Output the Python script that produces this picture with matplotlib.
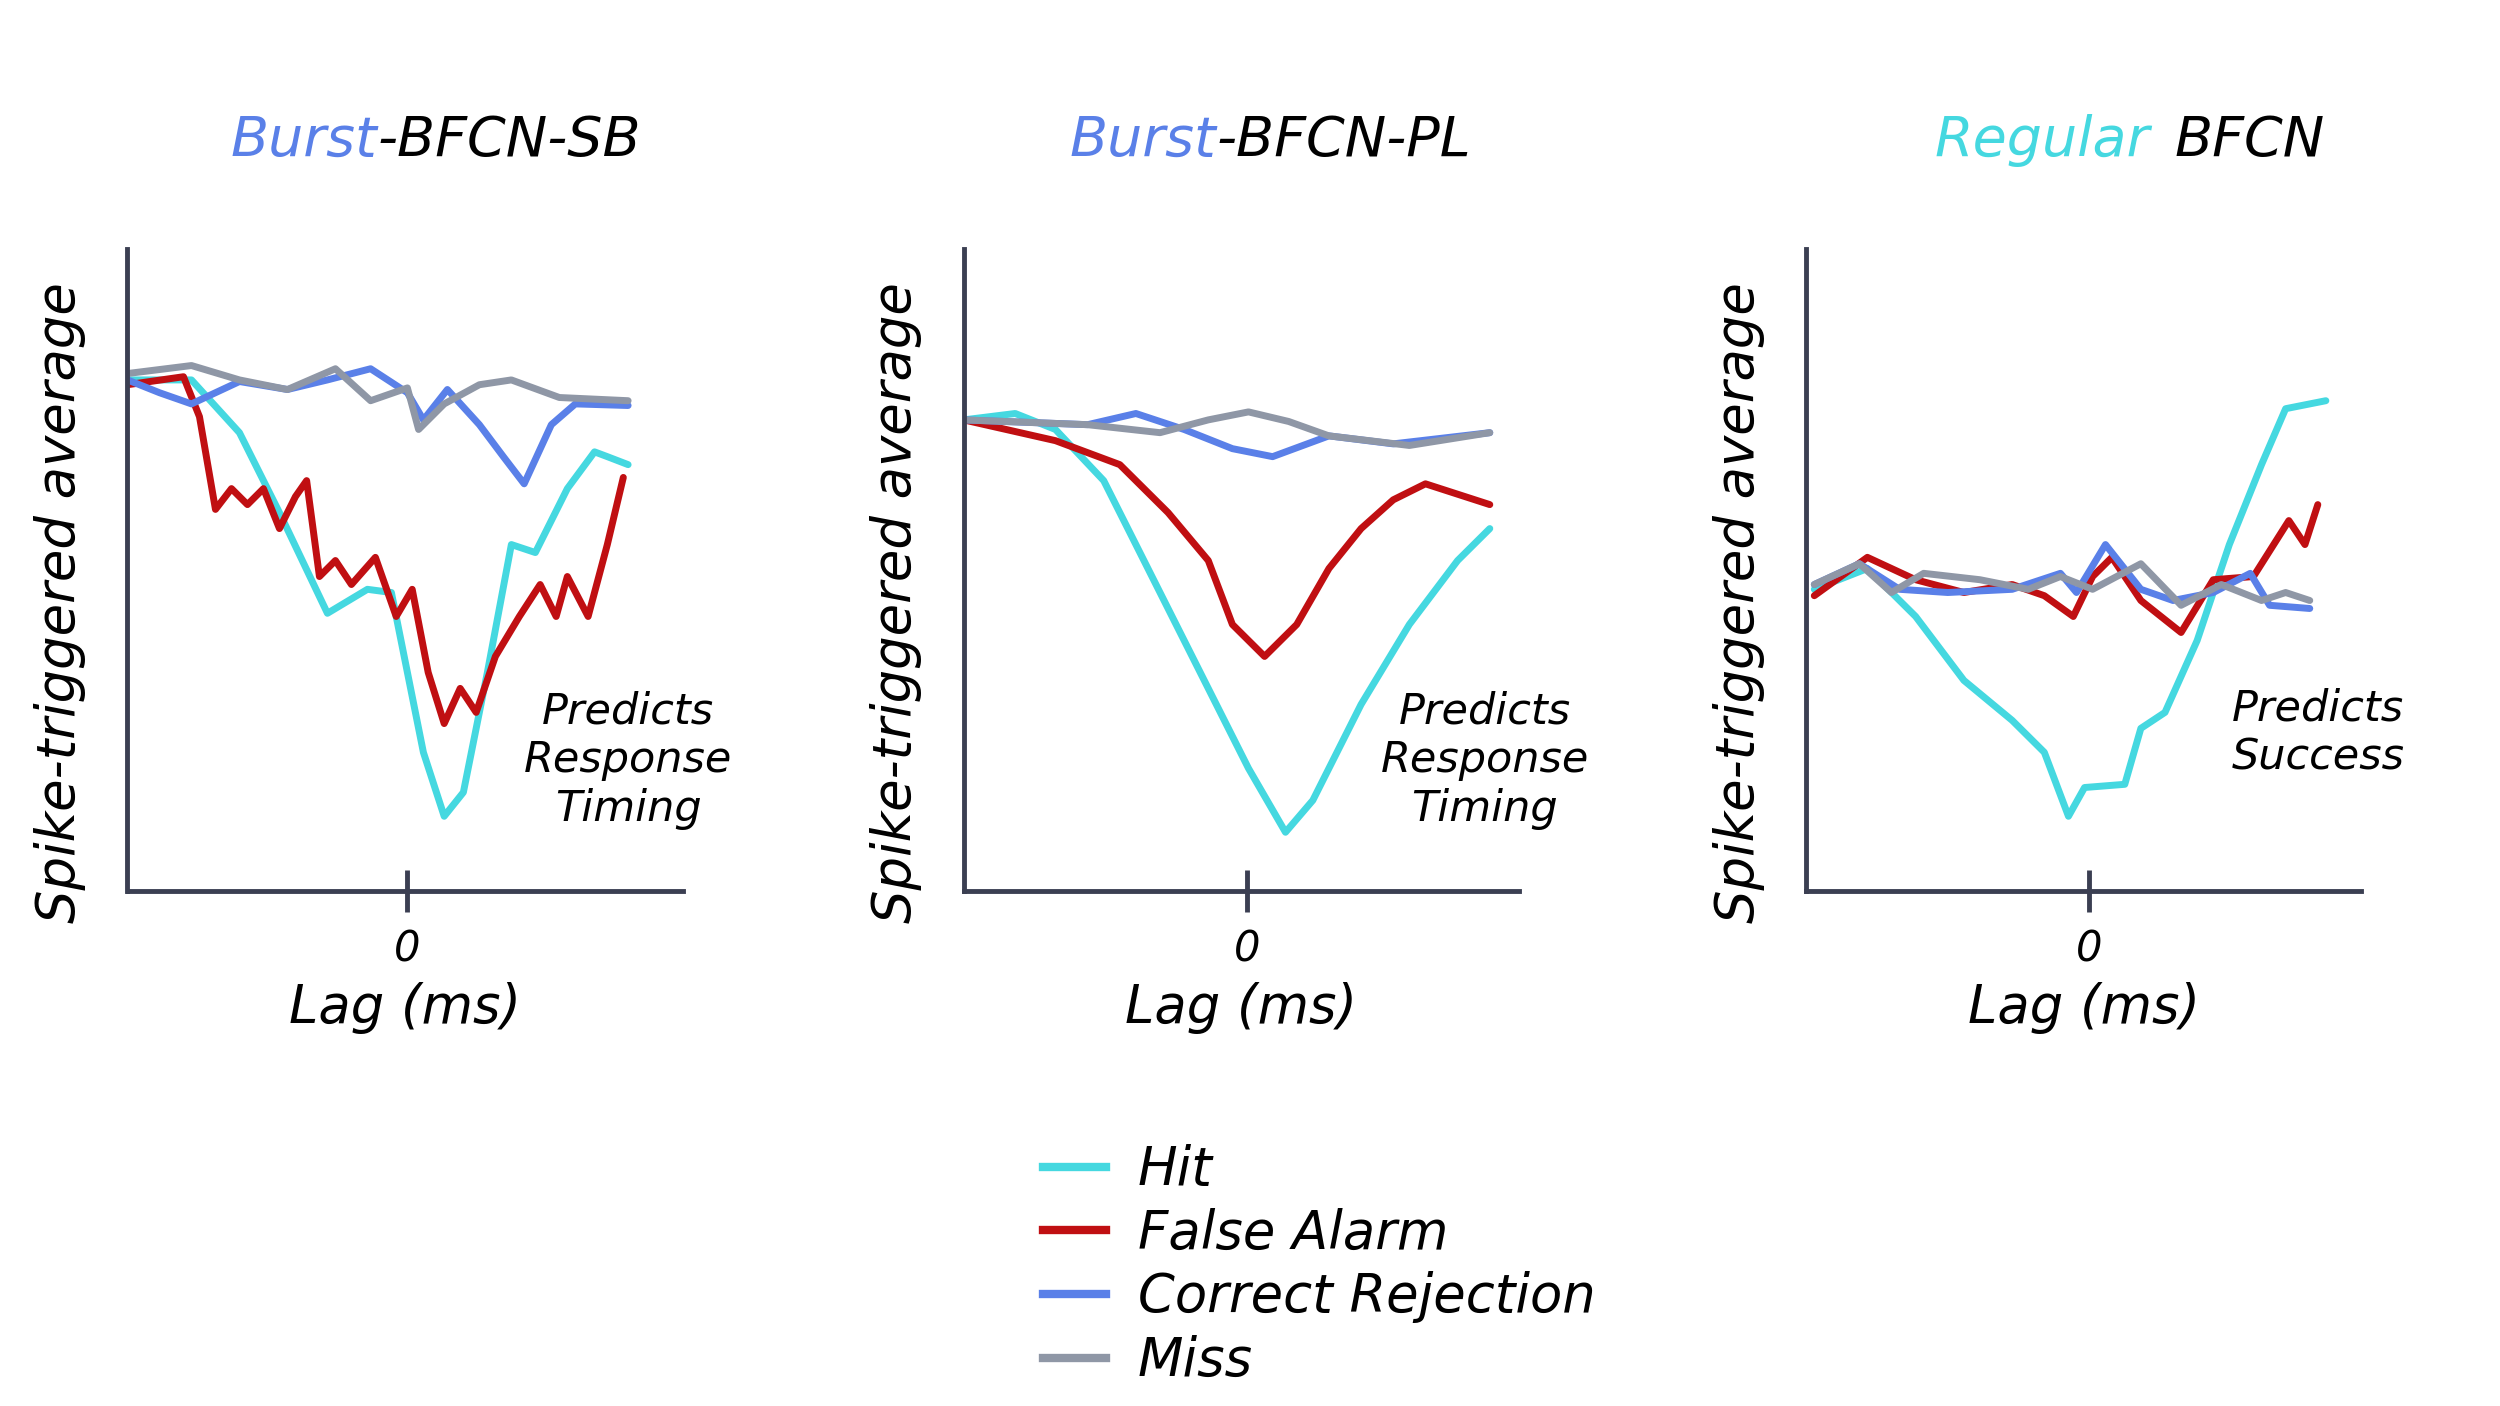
import numpy as np
import matplotlib.pyplot as plt
from matplotlib.lines import Line2D

# colours
C_HIT = '#45d8e0'
C_FA = '#c00f12'
C_CR = '#5a80e8'
C_MISS = '#8f97a6'
AX = '#3b3f52'

# --- panel 1: Burst-BFCN-SB ---
p1_hit_lag = [-175, -135, -105, -80, -50, -25, -10, 0, 10, 23, 35, 50, 65, 80, 100, 117, 125, 138]
p1_hit_val = [320, 320, 287, 237, 174, 189, 187, 137, 87, 47, 62, 137, 217, 212, 252, 275, 272, 267]
p1_fa_lag = [-175, -140, -130, -120, -110, -100, -90, -80, -70, -63, -55, -45, -35, -20, -7, 3, 13, 23,
             33, 43, 55, 70, 83, 93, 100, 113, 125, 135]
p1_fa_val = [317, 322, 297, 239, 252, 242, 252, 227, 247, 257, 197, 207, 192, 209, 172, 189, 137, 105,
             127, 112, 147, 172, 192, 172, 197, 172, 217, 259]
p1_cr_lag = [-175, -155, -135, -105, -75, -50, -23, 0, 10, 25, 45, 60, 73, 90, 105, 138]
p1_cr_val = [320, 312, 305, 319, 314, 320, 327, 312, 295, 314, 292, 272, 255, 292, 305, 304]
p1_miss_lag = [-175, -135, -105, -75, -45, -23, 0, 7, 23, 45, 65, 95, 138]
p1_miss_val = [324, 329, 320, 314, 327, 307, 315, 289, 305, 317, 320, 309, 307]

# --- panel 2: Burst-BFCN-PL ---
p2_hit_lag = [-176, -144, -119, -89, -59, -29, 1, 24, 41, 71, 101, 131, 151]
p2_hit_val = [295, 299, 289, 257, 197, 137, 77, 37, 57, 117, 167, 207, 227]
p2_fa_lag = [-176, -119, -79, -49, -24, -9, 11, 31, 51, 71, 91, 111, 151]
p2_fa_val = [295, 282, 267, 237, 207, 167, 147, 167, 202, 227, 245, 255, 242]
p2_cr_lag = [-176, -99, -69, -39, -9, 16, 51, 91, 151]
p2_cr_val = [295, 292, 299, 289, 277, 272, 285, 280, 287]
p2_miss_lag = [-176, -99, -54, -24, 1, 26, 51, 101, 151]
p2_miss_val = [295, 292, 287, 295, 300, 294, 285, 279, 287]

# --- panel 3: Regular BFCN ---
p3_hit_lag = [-171, -138, -108, -78, -48, -28, -13, -3, 22, 32, 47, 67, 87, 107, 122, 147]
p3_hit_val = [189, 202, 172, 132, 107, 87, 47, 65, 67, 102, 112, 157, 217, 267, 302, 307]
p3_fa_lag = [-171, -138, -108, -78, -48, -28, -10, 2, 14, 32, 57, 77, 102, 124, 134, 142]
p3_fa_val = [185, 209, 195, 187, 192, 185, 172, 197, 209, 182, 162, 195, 197, 232, 217, 242]
p3_cr_lag = [-171, -143, -118, -88, -48, -18, -8, 10, 32, 52, 77, 100, 112, 137]
p3_cr_val = [192, 205, 189, 187, 189, 199, 187, 217, 189, 182, 187, 199, 179, 177]
p3_miss_lag = [-171, -143, -123, -103, -68, -38, -18, 2, 32, 57, 82, 107, 122, 137]
p3_miss_val = [192, 205, 187, 199, 195, 189, 197, 189, 205, 179, 192, 182, 187, 182]

panels = [
    dict(left=0.051, xlim=(-175, 172),
         series=[(p1_hit_lag, p1_hit_val, C_HIT), (p1_fa_lag, p1_fa_val, C_FA),
                 (p1_cr_lag, p1_cr_val, C_CR), (p1_miss_lag, p1_miss_val, C_MISS)],
         note='Predicts\nResponse\nTiming', note_xy=(138, 82)),
    dict(left=0.3855, xlim=(-176, 169),
         series=[(p2_hit_lag, p2_hit_val, C_HIT), (p2_fa_lag, p2_fa_val, C_FA),
                 (p2_cr_lag, p2_cr_val, C_CR), (p2_miss_lag, p2_miss_val, C_MISS)],
         note='Predicts\nResponse\nTiming', note_xy=(148, 82)),
    dict(left=0.7225, xlim=(-176, 169),
         series=[(p3_hit_lag, p3_hit_val, C_HIT), (p3_fa_lag, p3_fa_val, C_FA),
                 (p3_cr_lag, p3_cr_val, C_CR), (p3_miss_lag, p3_miss_val, C_MISS)],
         note='Predicts\nSuccess', note_xy=(142, 99)),
]

plt.rcParams['font.family'] = ['DejaVu Sans']
plt.rcParams['font.style'] = 'italic'

fig = plt.figure(figsize=(25, 14.06), dpi=100)

for p in panels:
    ax = fig.add_axes([p['left'], 0.366, 0.222, 0.457])
    for lag, val, col in p['series']:
        ax.plot(lag, val, color=col, lw=5, solid_capstyle='round', solid_joinstyle='round')
    ax.set_xlim(*p['xlim'])
    ax.set_ylim(0, 402)
    for s in ['top', 'right']:
        ax.spines[s].set_visible(False)
    for s in ['left', 'bottom']:
        ax.spines[s].set_color(AX)
        ax.spines[s].set_linewidth(3.5)
    ax.set_yticks([])
    ax.set_xticks([0])
    ax.set_xticklabels(['0'], fontsize=30)
    ax.tick_params(axis='x', direction='inout', length=30, width=3.5, color=AX, pad=12)
    ax.set_xlabel('Lag (ms)', fontsize=38, labelpad=8)
    ax.set_ylabel('Spike-triggered average', fontsize=38, labelpad=8)
    ax.yaxis.set_label_coords(-0.075, 0.45)
    ax.text(*p['note_xy'], p['note'], fontsize=31, ha='center', va='center', linespacing=1.2)

title_y = 0.9
fig.text(0.151, title_y, 'Burst', color=C_CR, fontsize=40, ha='right', va='center')
fig.text(0.151, title_y, '-BFCN-SB', color='black', fontsize=40, ha='left', va='center')
fig.text(0.4865, title_y, 'Burst', color=C_CR, fontsize=40, ha='right', va='center')
fig.text(0.4865, title_y, '-BFCN-PL', color='black', fontsize=40, ha='left', va='center')
fig.text(0.860, title_y, 'Regular', color=C_HIT, fontsize=40, ha='right', va='center')
fig.text(0.870, title_y, 'BFCN', color='black', fontsize=40, ha='left', va='center')

handles = [Line2D([], [], color=c, lw=6) for c in [C_HIT, C_FA, C_CR, C_MISS]]
fig.legend(handles, ['Hit', 'False Alarm', 'Correct Rejection', 'Miss'],
           loc='upper left', bbox_to_anchor=(0.398, 0.22), frameon=False,
           fontsize=38, handlelength=1.2, labelspacing=0.22, handletextpad=0.6)

fig.savefig('out.png', dpi=100, facecolor='white')
